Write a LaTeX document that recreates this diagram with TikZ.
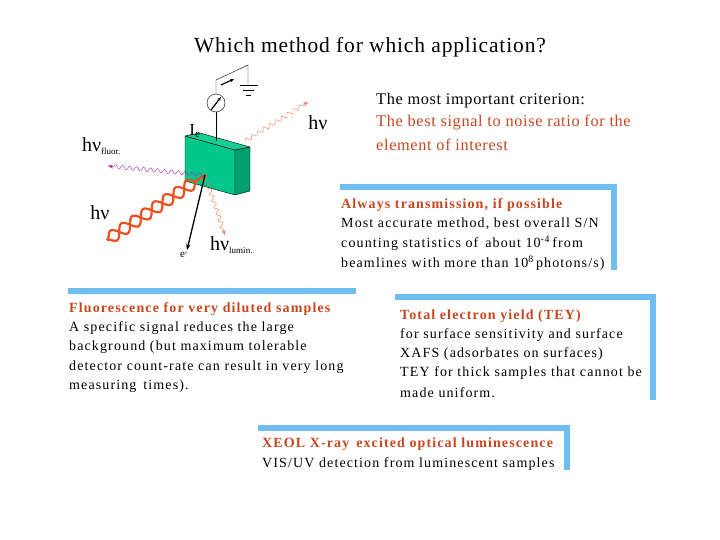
\documentclass[tikz,border=0pt]{standalone}
\usepackage{fontspec}
\setmainfont{Liberation Serif}
\newfontfamily\wide[LetterSpace=8]{Liberation Serif}
\newfontfamily\midw[LetterSpace=4]{Liberation Serif}
\usetikzlibrary{decorations.pathmorphing,arrows.meta}
\definecolor{barblue}{RGB}{110,190,240}
\definecolor{hred}{RGB}{200,70,30}
\definecolor{wav}{RGB}{235,80,30}
\definecolor{boxg}{RGB}{0,200,140}
\definecolor{purp}{RGB}{170,40,170}
\tikzset{
 txt/.style={anchor=west,inner sep=0pt,font=\wide\fontsize{14}{16}\selectfont},
 hd/.style={txt,text=hred,font=\wide\fontsize{14}{16}\selectfont\bfseries},
 crit/.style={anchor=west,inner sep=0pt,font=\midw\fontsize{16.3}{19}\selectfont},
 bar/.style={fill=barblue,draw=none},
 lab/.style={inner sep=0pt,font=\fontsize{20}{22}\selectfont},
 wavy/.style={decorate,decoration={snake,amplitude=2pt,segment length=7pt,post length=4pt}},
}
\begin{document}
\begin{tikzpicture}[x=1pt,y=-1pt]
\useasboundingbox (0,0) rectangle (720,540);
\node[inner sep=0pt,font=\midw\fontsize{21.5}{24}\selectfont] (title) at (370,47) {Which method for which application?};
% criterion
\node[crit] (c1) at (376,101) {The most important criterion:};
\node[crit,text=hred] (c2) at (376,123) {The best signal to noise ratio for the};
\node[crit,text=hred] (c3) at (376,145) {element of interest};
% transmission
\fill[bar] (340,184) rectangle (617,190);
\fill[bar] (611,184) rectangle (617,270);
\node[hd] (t0) at (341,205) {Always transmission, if possible};
\node[txt] (t1) at (341,224) {Most accurate method, best overall S/N};
\node[txt] (t2) at (341,243) {counting statistics of\, about 10\textsuperscript{-4}\,from};
\node[txt] (t3) at (341,263) {beamlines with more than 10\textsuperscript{8}\,photons/s)};
% fluorescence
\fill[bar] (68,288) rectangle (356,294);
\node[hd] (f0) at (69,309) {Fluorescence for very diluted samples};
\node[txt] (f1) at (69,328) {A specific signal reduces the large};
\node[txt] (f2) at (69,347) {background (but maximum tolerable};
\node[txt] (f3) at (69,367) {detector count-rate can result in very long};
\node[txt] (f4) at (69,386) {measuring\, times).};
% TEY
\fill[bar] (395,294) rectangle (656,300);
\fill[bar] (650,294) rectangle (656,400);
\node[hd] (e0) at (400,316) {Total electron yield (TEY)};
\node[txt] (e1) at (400,335) {for surface sensitivity and surface};
\node[txt] (e2) at (400,354) {XAFS (adsorbates on surfaces)};
\node[txt] (e3) at (400,373) {TEY for thick samples that cannot be};
\node[txt] (e4) at (400,393) {made uniform.};
% XEOL
\fill[bar] (258,425) rectangle (570,431);
\fill[bar] (564,425) rectangle (570,470);
\node[hd] (x0) at (262,444) {XEOL X-ray\, excited optical luminescence};
\node[txt] (x1) at (262,464) {VIS/UV detection from luminescent samples};
% sample box
\filldraw[fill=boxg,draw=black,line join=round] (185,136) -- (235,150) -- (235,195) -- (185,181) -- cycle;
\filldraw[fill=boxg!80!black,draw=black,line join=round] (235,150) -- (250,147) -- (250,191) -- (235,195) -- cycle;
\filldraw[fill=boxg!90!white,draw=black,line join=round] (185,136) -- (200,133) -- (250,147) -- (235,150) -- cycle;
\coordinate (hit) at (205,175);
% wiring
\coordinate (wtop) at (216,141);
\node[circle,draw,fill=white,minimum size=18pt,inner sep=0pt] (meter) at (216,103) {};
\coordinate (w1) at (216,80);
\coordinate (w2) at (248,65);
\coordinate (gnd) at (248,85);
\draw (wtop) -- (meter.south);
\draw (meter.north) -- (w1) -- (w2) -- (gnd);
\draw (240,85) -- (258,85) (243,90) -- (254,90) (246,95) -- (251,95);
\draw[-{Stealth[length=4pt]},line width=1.2pt] (211,110) -- (221,97);
\draw[-{Stealth[length=4pt]},line width=1.2pt] (221,85) -- (234,79);
\node[lab,font=\fontsize{17}{20}\selectfont] (Ie) at (195,131) {I\textsubscript{\fontsize{11}{11}\selectfont e}};
% waves
\draw[wav,line width=2.2pt,decorate,decoration={snake,amplitude=6pt,segment length=26pt}] (107,240) -- (hit);
\draw[wav,line width=2.2pt,decorate,decoration={snake,amplitude=-6pt,segment length=26pt}] (107,240) -- (hit);
\coordinate (out1) at (308,102);
\draw[wav!80!white,wavy,-{Stealth[length=5pt]}] (245,141) -- (out1);
\coordinate (fl) at (108,166);
\draw[purp,wavy,-{Stealth[length=5pt]}] (hit) -- (fl);
\coordinate (lum) at (225,235);
\draw[wav!80!white,wavy,-{Stealth[length=5pt]}] (hit) -- (lum);
\coordinate (el) at (187,250);
\draw[line width=1.3pt,-{Stealth[length=6pt]}] (hit) -- (el);
% labels
\node[lab] (hv1) at (318,123) {hν};
\node[lab,anchor=west] (hvf) at (82,146) {hν\textsubscript{\fontsize{9}{9}\selectfont fluor.}};
\node[lab] (hv2) at (100,213) {hν};
\node[lab,anchor=west] (hvl) at (210,245) {hν\textsubscript{\fontsize{9}{9}\selectfont lumin.}};
\node[inner sep=0pt,font=\fontsize{11}{11}\selectfont] (em) at (184,255) {e\textsuperscript{-}};
\end{tikzpicture}
\end{document}
